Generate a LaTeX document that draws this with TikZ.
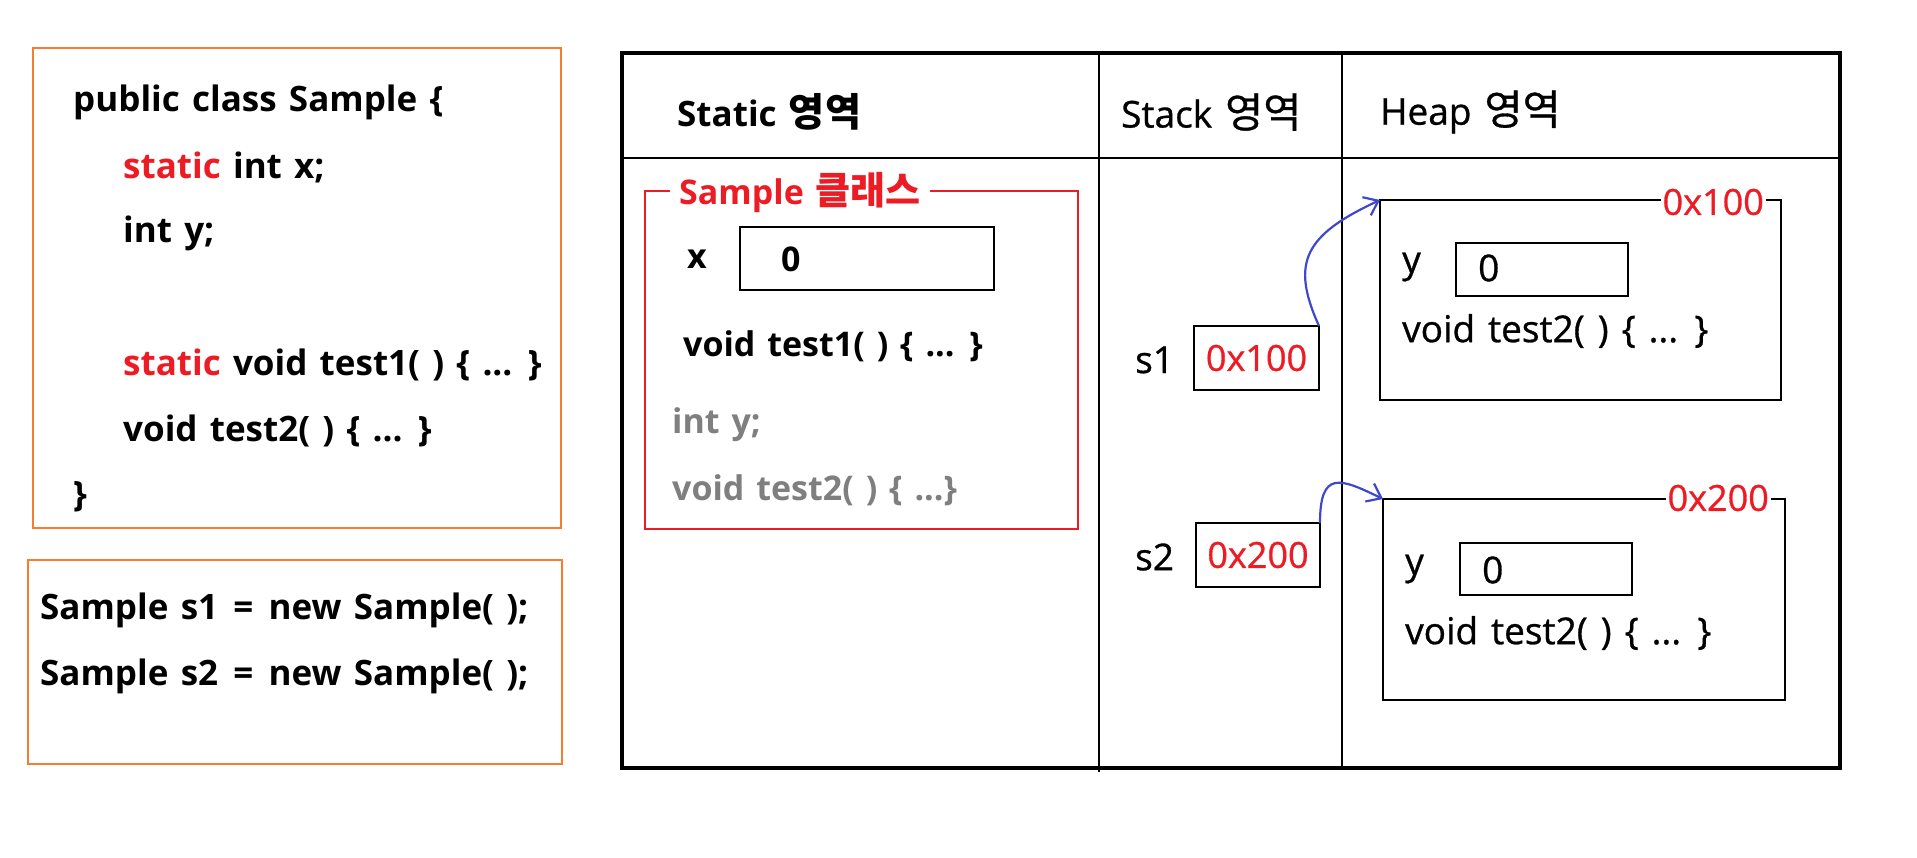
\documentclass[tikz,border=0pt]{standalone}
\usepackage{fontspec}
\setmainfont{Open Sans}[WordSpace=1.35]
\newfontfamily\midfont{Open Sans}[WordSpace=1.35,FakeBold=0.8]
\newfontfamily\kr{Noto Sans CJK KR}[Scale=1.12]
\newfontfamily\krmid{Noto Sans CJK KR}[Scale=1.12,FakeBold=0.8]
\usetikzlibrary{positioning,arrows.meta}
\definecolor{paintred}{RGB}{237,28,36}
\definecolor{paintblue}{RGB}{63,72,204}
\definecolor{codeorange}{RGB}{244,125,48}
\definecolor{ghost}{RGB}{127,127,127}
\tikzset{
  txt/.style={anchor=west,inner sep=0pt},
  code/.style={txt,font=\fontsize{35}{40}\selectfont\bfseries},
  bold/.style={txt,font=\fontsize{34}{40}\selectfont\bfseries},
  plain/.style={txt,font=\fontsize{37}{44}\selectfont\midfont},
  addr/.style={font=\fontsize{36}{42}\selectfont\midfont,text=paintred},
  slot/.style={draw,line width=2.5pt,outer sep=0pt,inner sep=0pt},
  ref/.style={paintblue,line width=2.2pt,-{Straight Barb[length=13pt,width=20pt]}}
}
\begin{document}
\begin{tikzpicture}[x=1pt,y=-1pt]
			%%%%% START %%%%%
			\useasboundingbox (0,0) rectangle (1917,857);
			
			% source code
			\draw[codeorange, line width=1.3pt] (33,48) rectangle (561,528);
			\node[code] (cls) at (73,102) {public class Sample \{};
			\node[code] (fx) at (123,167) {\textcolor{paintred}{static} int x;};
			\node[code] (fy) at (123,233) {int y;};
			\node[code] (ft1) at (123,365) {\textcolor{paintred}{static} void test1( ) \{ ... \}};
			\node[code] (ft2) at (123,431) {void test2( ) \{ ... \}};
			\node[code] (cend) at (73,497) {\}};
			
			\draw[codeorange, line width=1.3pt] (28,560) rectangle (562,764);
			\node[code] (new1) at (40,610) {Sample s1 \kern3pt= \kern3pt new Sample( );};
			\node[code] (new2) at (40,676) {Sample s2 \kern3pt= \kern3pt new Sample( );};
			
			% memory table
			\draw[line width=4pt] (622,53) rectangle (1840,768);
			\draw[line width=2.5pt] (622,158) -- (1840,158);
			\draw[line width=2.5pt] (1099,53) -- (1099,772);
			\draw[line width=2.5pt] (1342,53) -- (1342,768);
			\node[bold, font=\fontsize{35}{40}\selectfont\bfseries] (hstatic) at (677,112) {Static {\kr 영역}};
			\node[plain] (hstack) at (1121,112) {Stack {\krmid 영역}};
			\node[plain] (hheap) at (1380,112) {Heap {\krmid 영역}};
			
			% static area
			\draw[paintred, line width=1.2pt] (645,191) rectangle (1078,529);
			\node[bold, text=paintred, fill=white, inner xsep=9pt, inner ysep=1pt] (cname) at (670,193) {Sample {\kr 클래스}};
			\node[bold] (sx) at (687,259) {x};
			\draw[line width=1.2pt] (740,227) rectangle (994,290);
			\node[bold] (sxval) at (781,259) {0};
			\node[bold] (st1) at (683,346) {void test1( ) \{ ... \}};
			\node[bold, text=ghost] (gy) at (672,425) {int y;};
			\node[bold, text=ghost] (gt2) at (672,490) {void test2( ) \{ ...\}};
			
			% stack area
			\node[plain] (s1) at (1135,360) {s1};
			\node[slot, minimum width=125pt, minimum height=64pt, addr] (s1box) at (1256.5,358) {0x100};
			\node[plain] (s2) at (1135,557) {s2};
			\node[slot, minimum width=124pt, minimum height=64pt, addr] (s2box) at (1258,555) {0x200};
			
			% heap area
			\node[slot, minimum width=401pt, minimum height=200pt] (obj1) at (1580.5,300) {};
			\node[addr, fill=white, inner xsep=2pt, inner ysep=0pt, anchor=east] (a1) at (1766,202) {0x100};
			\node[plain] (y1) at (1402,267) {y};
			\draw[line width=1.2pt] (1456,243) rectangle (1628,296);
			\node[plain] (y1val) at (1478,268) {0};
			\node[plain] (m1) at (1402,331) {void test2( ) \{ ... \}};
			
			\node[slot, minimum width=402pt, minimum height=201pt] (obj2) at (1584,599.5) {};
			\node[addr, fill=white, inner xsep=2pt, inner ysep=0pt, anchor=east] (a2) at (1771,498) {0x200};
			\node[plain] (y2) at (1405,569) {y};
			\draw[line width=1.2pt] (1460,543) rectangle (1632,595);
			\node[plain] (y2val) at (1482,570) {0};
			\node[plain] (m2) at (1405,633) {void test2( ) \{ ... \}};
			
			% references
			\draw[ref] (s1box.north east) .. controls (1290,262) and (1305,235) .. (obj1.north west);
			\draw[ref] (s2box.north east) .. controls (1320,470) and (1340,478) .. (obj2.north west);
			%%%%% END %%%%%
\end{tikzpicture}
\end{document}
